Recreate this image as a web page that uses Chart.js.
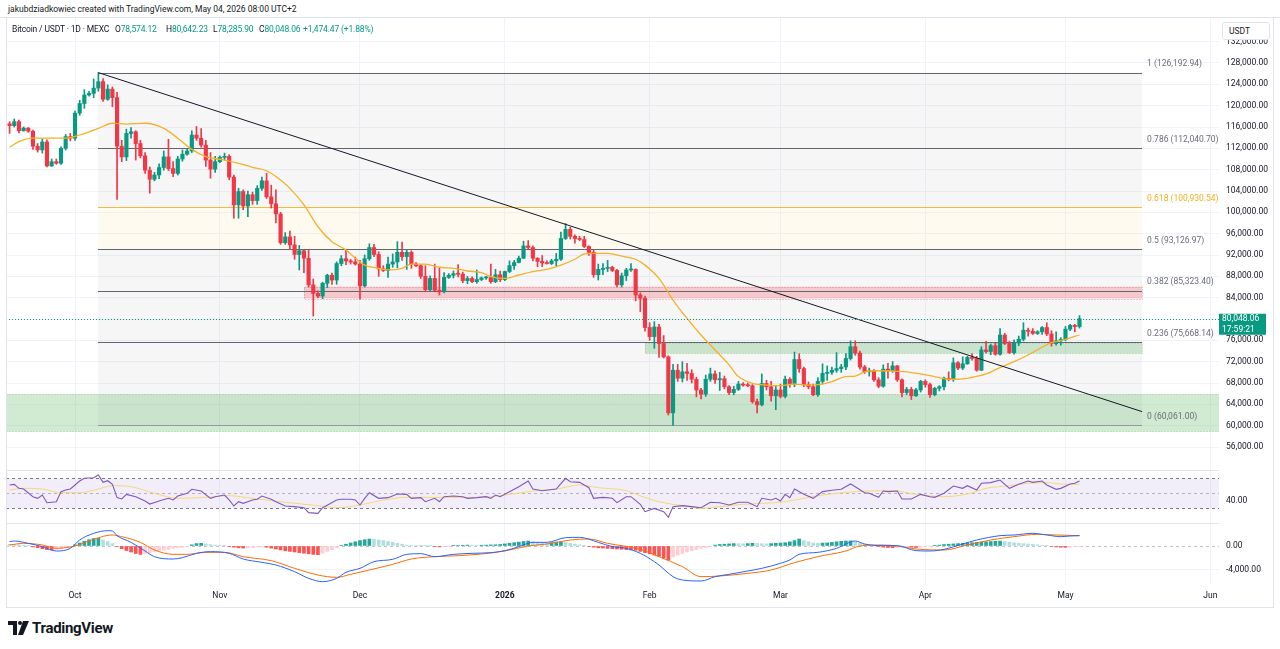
<!DOCTYPE html>
<html><head><meta charset="utf-8">
<script src="https://cdn.jsdelivr.net/npm/chart.js@4.4.1/dist/chart.umd.min.js"></script>
<style>
html,body{margin:0;padding:0;background:#fff;width:1280px;height:649px;overflow:hidden;font-family:Roboto,'DejaVu Sans',sans-serif;color:#131722;}
.abs{position:absolute;white-space:nowrap;}
canvas{position:absolute;left:0;}
.hl{position:absolute;height:1px;background:#e0e3eb;}
.g{color:#089981;}
.h2{position:absolute;white-space:nowrap;top:24px;font-size:8.5px;line-height:11px;letter-spacing:-0.15px}
</style></head>
<body>
<canvas id="cMain" width="1280" height="452" style="top:18px;width:1280px;height:452px"></canvas>
<canvas id="cRsi" width="1280" height="53" style="top:470px;width:1280px;height:53px"></canvas>
<canvas id="cMacd" width="1280" height="84" style="top:523px;width:1280px;height:84px"></canvas>

<div class="hl" style="left:0;top:17px;width:1280px"></div>
<div class="hl" style="left:6px;top:470px;width:1213px"></div>
<div class="hl" style="left:6px;top:523px;width:1213px"></div>
<div class="hl" style="left:6px;top:607px;width:1268px"></div>
<div class="abs" style="left:6px;top:17px;width:1px;height:590px;background:#e0e3eb"></div>
<div class="abs" style="left:1273px;top:17px;width:1px;height:590px;background:#e0e3eb"></div>

<div class="abs" style="left:8px;top:4px;font-size:8.5px;line-height:11px">jakubdziadkowiec created with TradingView.com, May 04, 2026 08:00 UTC+2</div>
<div class="h2" style="left:12px">Bitcoin / USDT · 1D · MEXC</div>
<div class="h2" style="left:115px">O<span class="g">78,574.12</span></div>
<div class="h2" style="left:166px">H<span class="g">80,642.23</span></div>
<div class="h2" style="left:213px">L<span class="g">78,285.90</span></div>
<div class="h2" style="left:259px">C<span class="g">80,048.06</span></div>
<div class="h2 g" style="left:303px">+1,474.47 (+1.88%)</div>

<div class="abs" style="left:1222px;top:22px;height:18px;border:1px solid #e0e3eb;border-radius:3px;background:#fff;font-size:8.5px;line-height:16px;padding-left:6px;box-sizing:border-box;width:48px">USDT</div>

<svg class="abs" style="left:8px;top:620px" width="22" height="16" viewBox="0 0 22 16">
  <path d="M0 1 H9 V15 H5 V5 H0 Z" fill="#131722"/>
  <circle cx="12" cy="3" r="2" fill="#131722"/>
  <path d="M15 1 H21 L15 15 H10 Z" fill="#131722"/>
</svg>
<div class="abs" style="left:32px;top:619px;font-size:15px;font-weight:bold;line-height:18px;letter-spacing:-0.3px">TradingView</div>

<script>
// ---------------- DATA ----------------
const CANDLE_START = '2025-09-16';           // first candle date (one candle per day)
const opens = [
 115300,116600,116250,117000,115300,115800,115200,112400,111700,113200,108700,109500,109200,112000,114200,
 113900,118600,120400,122000,122300,123300,124500,121200,123100,121500,112400,110400,114800,115100,112900,110600,107900,106200,107000,108400,110400,108200,107300,110000,110900,111500,114500,113900,112600,109800,108100,
 109500,110300,110500,106600,101400,103900,101200,103300,102200,104500,105900,102900,101600,99700,94300,95400,93900,92100,92800,91400,86400,84800,84300,86700,88200,87300,90400,91300,90900,90700,
 90300,86200,91300,93400,92100,89400,89100,90300,90700,92500,91700,92500,90300,90000,88000,85500,87600,85400,85100,87800,88200,88500,88400,87200,87600,87000,87400,87700,87800,87000,88300,
 87400,88900,90000,90600,91400,93700,93400,91400,90800,90500,90400,90900,91200,95100,96800,95500,95100,94900,93600,92500,88300,89300,89500,89700,89100,86400,88100,89200,89300,84500,83900,
 78400,76700,78500,75400,72900,62400,70400,68900,70100,69800,68700,66700,65900,68700,69700,68600,68800,67300,66200,66800,67800,67600,67500,64500,63900,67900,67300,65600,
 66700,65500,68700,67900,72400,70700,67700,67300,65800,68300,69800,70000,70400,70700,71000,72600,74800,73600,71000,70100,70300,68600,67400,70600,70300,71200,68600,66200,66800,65600,66700,
 68300,67700,65800,67000,67300,68900,68700,71800,70800,71600,72800,72600,70400,74200,73900,75000,73400,77000,75400,73700,75500,76200,77900,77700,77300,77600,78400,77200,75400,75900,
 76200,78100,78800,78574.12];
const highs = [
 117000,117000,117500,117300,116000,115900,115400,112900,113700,113600,110000,110000,112300,114600,114800,
 119000,121000,123000,122700,125000,126193,125100,123900,123500,122500,113500,115600,115900,115300,113500,111200,108500,107500,109100,111500,113700,109500,110500,111700,111800,115300,116100,115700,113500,111200,110500,
 110600,111100,110800,107000,104500,104200,104000,103800,105000,106600,107300,105100,104200,100000,96200,96500,95500,93800,92900,93000,87500,85300,86900,88400,88600,90700,91900,92900,91200,91600,
 91000,92000,94100,94000,92600,90000,91600,92200,94500,94400,92900,92800,90600,90200,90000,88100,90300,89500,88700,88500,89000,90200,88800,88000,87900,89200,87900,88000,90300,89300,89000,
 89000,90900,91000,91800,94600,94700,93700,91500,91900,90900,91200,92300,96300,97900,97200,95800,95500,95500,93700,93000,90300,90400,91000,89900,89300,88600,89500,90400,89400,84900,84300,
 79300,79500,79000,76900,73100,71500,71500,72000,71700,70500,69100,67000,69500,70800,70300,70000,69300,67500,67400,68300,68100,68000,67700,65000,69700,68500,68300,67500,
 67800,69300,69000,73800,73500,71000,68200,67800,69000,71600,71200,71000,73700,71500,73500,75900,75900,74000,71300,70800,70500,69000,71400,71700,72000,71300,68800,67200,67200,67000,68500,
 68600,68000,67200,67500,69100,70100,72700,72000,72900,73000,73500,73000,74800,75800,75300,75500,78200,77300,75800,76100,76800,79300,78300,78200,77800,78600,79300,77800,77600,76500,
 78600,79000,79000,80642.23];
const lows = [
 115000,114800,116000,114900,115200,115000,111800,111300,111100,108500,108600,109000,109000,111700,113400,
 113500,118200,119500,121800,121500,122700,120800,121000,119800,102400,109500,109700,113900,109800,110200,107300,103600,105900,106300,107900,107800,106700,107000,109600,110700,111200,113500,112200,108600,106400,107500,
 109300,109800,106100,98900,98900,100500,99200,101500,101500,104100,102600,100800,98000,94000,94000,93100,91200,89200,88700,86000,80560,84000,83800,85900,86500,86500,90000,90200,90300,90100,
 83700,86000,91000,91700,88000,88900,87800,89700,89600,91000,89300,89500,89800,87600,85100,85300,85300,84500,84900,87600,87700,87900,86800,86600,86800,86700,87200,87400,86700,86800,87000,
 87200,88700,89300,90500,91300,93000,90900,89800,89800,90300,90200,90000,91000,94900,95000,94200,94700,93400,91900,87800,87300,88300,88900,88900,86000,86000,87200,88900,83400,81400,77700,
 76000,74500,72800,72700,62000,60061,68300,68200,68500,68000,65400,65000,65500,68300,67900,66600,66900,65800,65800,66600,67400,67300,64200,62400,63700,66700,64600,63000,
 65200,65200,67200,67300,70000,67300,66900,65600,65500,67900,68500,69600,70000,70000,70500,72300,73200,70600,69800,69300,68300,67100,67200,68900,70000,68300,65400,65800,64900,65500,66300,
 67200,65300,65600,66500,66700,68400,68300,70500,70500,71500,72300,70200,70300,73600,73300,73200,73200,75200,73500,73400,75000,75900,76800,77100,77100,77100,76900,74900,75100,75100,
 75900,77800,77600,78285.90];
const closes = [
 116600,116250,117000,115300,115800,115200,112400,111700,113200,108700,109500,109200,112000,114200,113900,
 118600,120400,122000,122300,123300,124500,121200,123100,121500,112400,110400,114800,115100,112900,110600,107900,106200,107000,108400,110400,108200,107300,110000,110900,111500,114500,113900,112600,109800,108100,109500,
 110300,110500,106600,101400,103900,101200,103300,102200,104500,105900,102900,101600,99700,94300,95400,93900,92100,92800,91400,86400,84800,84300,86700,88200,87300,90400,91300,90900,90700,90300,
 86200,91300,93400,92100,89400,89100,90300,90700,92500,91700,92500,90300,90000,88000,85500,87600,85400,85100,87800,88200,88500,88400,87200,87600,87000,87400,87700,87800,87000,88300,87400,
 88900,90000,90600,91400,93700,93400,91400,90800,90500,90400,90900,91200,95100,96800,95500,95100,94900,93600,92500,88300,89300,89500,89700,89100,86400,88100,89200,89300,84500,83900,78400,
 76700,78500,75400,72900,62400,70400,68900,70100,69800,68700,66700,65900,68700,69700,68600,68800,67300,66200,66800,67800,67600,67500,64500,63900,67900,67300,65600,66700,
 65500,68700,67900,72400,70700,67700,67300,65800,68300,69800,70000,70400,70700,71000,72600,74800,73600,71000,70100,70300,68600,67400,70600,70300,71200,68600,66200,66800,65600,66700,68300,
 67700,65800,67000,67300,68900,68700,71800,70800,71600,72800,72600,70400,74200,73900,75000,73400,77000,75400,73700,75500,76200,77900,77700,77300,77600,78400,77200,75400,75900,76200,
 78100,78800,78574.12,80048.06];

// day offsets below are days relative to 2025-10-01
const monthTickDays   = [0, 31, 61, 92, 123, 151, 182, 212, 243];
const monthTickLabels = ['Oct','Nov','Dec','2026','Feb','Mar','Apr','May','Jun'];
const priceTicks = [56000,60000,64000,68000,72000,76000,80000,84000,88000,92000,96000,100000,104000,108000,112000,116000,120000,124000,128000,132000];

const emaDays = [-14,-12,-9,-5,-2,1,5,8,11,15,19,22,25,28,32,35,38,41,43,46,49,52,55,58,60,62,65,67,70,72,75,78,81,84,87,89,92,95,98,101,104,107,109,111,114,117,120,122,125,128,131,134,137,140,142,145,148,151,154,157,160,162,165,167,169,172,175,178,181,184,187,189,192,195,198,201,204,207,209,212,215];
const emaValues = [112200,113250,113900,113900,113900,114500,115750,116700,116550,116700,115750,113900,111800,110450,109800,109200,108450,107800,106700,104500,101400,97300,94500,92950,91400,90100,89500,89200,89500,90300,90300,89700,89500,89000,88700,87950,87600,88250,88900,89300,90100,91200,92200,92300,92300,91800,91200,90100,87600,83550,80100,77000,74200,71400,69200,67950,67600,67500,67800,67600,67800,68250,69200,69300,70100,70300,70250,70100,69700,69200,68700,68700,69050,69700,70900,72000,73250,74700,75550,76200,77000];

const fibRatios = ['0','0.236','0.382','0.5','0.618','0.786','1'];
const fibPrices = [60061.00, 75668.14, 85323.40, 93126.97, 100930.54, 112040.70, 126192.94];
const fibStartDay = 5, fibEndDay = 228.4;

const trendDays = [5, 228.4];
const trendPrices = [126192.94, 62630];

const zoneKinds   = ['supply', 'demand', 'demand'];
const zoneFrom    = [49, 122, -20];
const zoneTo      = [228.4, 228.4, 260];
const zoneTop     = [86060, 75440, 65900];
const zoneBottom  = [83880, 73560, 58900];

const lastPrice = 80048.06;
const countdown = '17:59:21';

const rsiDays = [-14,-13,-12,-11,-9,-8,-7,-6,-4,-3,-2,-1,1,2,4,5,6,7,8,9,10,11,13,15,16,18,20,21,22,24,25,27,29,30,32,33,34,35,36,38,39,40,42,43,45,47,49,50,52,53,56,57,59,60,61,62,63,65,67,69,71,72,74,75,77,78,79,81,83,84,86,88,89,90,91,93,95,97,98,100,103,105,106,108,110,111,113,115,116,118,119,121,
 122,123,124,126,127,128,130,132,134,136,138,140,142,144,146,147,149,150,151,152,153,154,156,158,160,162,164,166,167,169,170,172,173,174,176,177,179,181,183,184,186,188,190,191,193,194,196,198,200,202,204,205,207,208,210,211,213,214,215];
const rsiValues = [60.7,61.5,56.2,55.3,45.1,42.9,47.3,37.1,38.4,51.8,54,55.3,66,69.6,70.4,74,64.2,66.4,61.5,43.8,42,48.2,45.1,39.3,35.3,39.3,42.9,40.7,46,49.6,54.9,52.7,42.9,45.1,47.3,40.7,32.7,38.4,36.2,40.7,41.6,46,41.6,38.4,32.7,31.8,30.4,23.8,22.9,30.4,40.7,41.6,41.6,40.7,34,42.9,50.4,42.9,43.8,48.7,48.2,42.9,43.8,38.4,42.9,38.4,45.1,46,45.1,42.9,43.8,45.1,42.9,47.3,45.1,51.8,58.4,66,55.3,53.1,55.3,69.6,65.1,64.2,57.1,42.9,44.2,42.9,37.1,45.1,45.1,34.9,
 25.1,27.3,29.5,25.1,17.6,31.8,33.1,31.8,30.4,37.6,37.1,34,37.6,37.6,31.8,42.9,40.7,42.9,39.3,48.2,43.8,55.3,48.2,42.9,51.8,53.6,54.9,62,58.4,50.4,49.6,44.2,52.7,51.8,52.7,42,42,48.2,45.1,44.2,49.6,59.3,56.2,59.8,54,62.9,63.8,67.3,56.2,61.6,66,64.2,66,60.7,54.9,56.2,62,62.9,66];
const rsiMaDays = [-14,-11,-7,-3,1,5,8,12,17,22,28,33,38,45,52,56,61,66,71,77,82,87,92,98,103,108,112,118,121,125,130,134,138,143,147,152,156,160,165,170,175,180,186,191,195,200,204,208,212,215];
const rsiMaValues = [54,56.2,55.3,50.4,50.4,55.3,59.8,58.4,49.6,42.9,44.2,46.4,42.9,37.6,33.1,30.4,34,40.7,44.2,44.2,44.2,44.2,47.3,52.7,55.3,60.7,57.1,53.1,46.2,38.4,33.1,29.5,31.8,34.9,36.2,38.4,42.9,47.3,50.9,52.7,53.1,48.2,45.1,48.7,56.2,59.8,62.9,63.8,61.6,61.6];
const rsiUpper = 70, rsiMiddle = 50, rsiLower = 30;

const macdDays = [-14,-13,-10,-7,-4,-1,1,4,7,8,9,12,15,17,21,23,26,29,33,36,40,43,47,50,53,56,58,61,64,68,71,74,77,81,85,89,92,95,98,101,105,108,112,115,118,121,124,125,128,130,134,137,140,144,147,151,153,155,159,163,167,169,173,176,180,183,186,190,193,198,201,205,208,211,213,215];
const macdValues = [722,833,444,-111,-833,-389,1000,2111,2556,2500,1722,611,-833,-1778,-2167,-1944,-1222,-944,-1222,-2167,-2722,-3167,-4278,-5389,-5944,-5389,-4389,-3722,-2611,-2222,-1389,-1278,-1778,-1389,-1222,-1111,-778,-111,611,611,1389,1444,611,-111,-389,-1222,-2611,-3167,-5111,-5667,-5833,-5111,-4722,-4167,-3722,-2889,-2333,-1389,-1056,-389,833,333,56,56,-778,-833,-556,333,1000,1722,1833,2111,1833,1556,1667,1722];
const signalDays = [-14,-11,-7,-4,0,3,8,10,14,17,21,24,28,32,36,42,47,52,56,59,63,68,72,77,82,87,92,97,101,106,110,114,121,125,130,134,138,144,149,154,159,165,168,173,176,180,186,191,196,201,206,210,215];
const signalValues = [167,444,167,-389,0,833,1833,1556,611,-667,-1389,-1389,-1056,-1056,-1778,-2444,-3722,-4833,-5222,-4722,-4000,-3056,-2167,-1778,-1611,-1333,-833,0,333,1000,1167,444,-556,-1778,-3444,-5111,-5000,-4556,-4000,-2778,-1778,-833,0,167,0,-500,-667,167,1000,1556,1944,1833,1722];
// histogram: one value per candle, same dates as candles
const histValues = [
 300,280,250,200,150,80, -150,-300,-450,-600,-650,-550, -400,-250,-100,
 200,500,800,1050,1250,1300, 1000,750,400, -100,-450,-750,-1000,-1250,-1400,
 -1300,-1150,-1000,-850,-700,-550,-400,-300,-200,-100, 200,400,450, 350,250,150,100,50,
 -100,-200,-300,-350,-300,-250,-150,-100,
 -200,-350,-500,-650,-800,-900,-1000,-1100,-1200,-1300,-1400,-1450, -1200,-900,-600,-300,
 100,300,500,700,900,1050,1150, 1100,1000,900,750,600,450,300,150, 100,80,50,30,10,
 -100,-150,-80,-20, 50,80,120,150,130,100,120,150,180,200,250,
 350,450,550,650,750,830, 700,600,500,450,550,650,700,600,450,300,200,100,
 -100,-200,-300,-350,-400,-450,-500,-550,-600,-650,-700,-900,
 -1100,-1300,-1500,-1700,-2000,-2330, -1800,-1500,-1250,-1000,-800,-600,-400,-250,-100,
 150,250,300,350,400,380,350,400,450,420,380,350,400,450,500,550,700,900, 1170, 900,700,500,
 450,480,520,600,700,780,830,850, 650,450,300,150,50,
 -100,-200,-250,-300,-250,-200,-150,-200,-250,-200,-100, -50,50,150,250,
 300,350,400,450,500,550,600,650,700,750,800,820, 750,650,550,450,400,350,300,200,120,50,
 -80,-150,-200,-220, -150,-80,-40];

// ---------------- HELPERS ----------------
const DAY0 = Date.UTC(2025, 9, 1);
const startParts = CANDLE_START.split('-').map(Number);
const candleStartDay = (Date.UTC(startParts[0], startParts[1]-1, startParts[2]) - DAY0) / 86400000;
const dayOf = i => candleStartDay + i;

const UP = '#089981', DOWN = '#f23645', GRID = '#f0f3fa', TXT = '#131722';
const X_MIN = -14.77, X_MAX = 244.86;
const FONT = 'Roboto';
Chart.defaults.font.family = FONT;
Chart.defaults.font.size = 8.5;
Chart.defaults.color = TXT;

const fmt2 = v => v.toLocaleString('en-US', {minimumFractionDigits: 2, maximumFractionDigits: 2});
const pts = (days, vals) => days.map((d, i) => ({x: d, y: vals[i]}));

function xAxis(showLabels) {
  return {
    type: 'linear', min: X_MIN, max: X_MAX, offset: false,
    afterBuildTicks(s) { s.ticks = monthTickDays.map(v => ({value: v})); },
    afterFit(s) { s.height = showLabels ? 22 : 0; s.paddingLeft = 0; s.paddingRight = 0; s.paddingTop = 0; s.paddingBottom = 0; },
    grid: { color: GRID, drawTicks: false, offset: false },
    border: { display: false },
    ticks: {
      display: showLabels, autoSkip: false, maxRotation: 0, padding: 6,
      color: TXT,
      font: ctx => ({ family: FONT, size: 8.5, weight: (ctx.tick && ctx.tick.value === 92) ? 'bold' : 'normal' }),
      callback: (v, i) => monthTickLabels[i]
    }
  };
}
function yAxis(min, max, ticks, gridColor) {
  return {
    type: 'linear', position: 'right', min, max,
    afterBuildTicks(s) { s.ticks = ticks.map(v => ({value: v})); },
    afterFit(s) { s.width = 61; s.paddingTop = 0; s.paddingBottom = 0; s.paddingLeft = 0; s.paddingRight = 0; },
    grid: { color: gridColor, drawTicks: false },
    border: { display: false },
    ticks: { padding: 7, color: TXT, font: {family: FONT, size: 8.5}, callback: v => fmt2(v) }
  };
}
const baseOpts = {
  responsive: false, maintainAspectRatio: false, animation: false, events: [],
  layout: { padding: { left: 6, right: 0, top: 0, bottom: 0 } },
  plugins: { legend: { display: false }, tooltip: { enabled: false } }
};
const candleColor = ctx => (closes[ctx.dataIndex] >= opens[ctx.dataIndex] ? UP : DOWN);

// ---------------- MAIN PANE ----------------
const mainPlugin = {
  id: 'mainDraw',
  beforeDatasetsDraw(chart) {
    const {ctx, chartArea: a, scales: {x, y}} = chart;
    ctx.save();
    ctx.beginPath(); ctx.rect(a.left, a.top, a.right - a.left, a.bottom - a.top); ctx.clip();
    const fx0 = Math.round(x.getPixelForValue(fibStartDay)), fx1 = Math.round(x.getPixelForValue(fibEndDay));
    for (let i = 0; i < fibPrices.length - 1; i++) {
      const yA = y.getPixelForValue(fibPrices[i]), yB = y.getPixelForValue(fibPrices[i + 1]);
      ctx.fillStyle = fibRatios[i] === '0.5' ? 'rgba(255,190,40,0.07)' : 'rgba(120,123,134,0.065)';
      ctx.fillRect(fx0, yB, fx1 - fx0, yA - yB);
    }
    for (let i = 0; i < zoneKinds.length; i++) {
      const x0 = x.getPixelForValue(zoneFrom[i]), x1 = x.getPixelForValue(zoneTo[i]);
      const y0 = y.getPixelForValue(zoneTop[i]), y1 = y.getPixelForValue(zoneBottom[i]);
      const sup = zoneKinds[i] === 'supply';
      ctx.fillStyle = sup ? 'rgba(242,54,69,0.24)' : 'rgba(76,175,80,0.26)';
      ctx.fillRect(x0, y0, x1 - x0, y1 - y0);
      ctx.strokeStyle = sup ? 'rgba(242,54,69,0.55)' : 'rgba(76,175,80,0.55)';
      ctx.setLineDash([1, 2]); ctx.lineWidth = 1;
      ctx.strokeRect(Math.round(x0) + 0.5, Math.round(y0) + 0.5, Math.round(x1 - x0), Math.round(y1 - y0));
      ctx.setLineDash([]);
    }
    for (let i = 0; i < fibPrices.length; i++) {
      const yy = Math.round(y.getPixelForValue(fibPrices[i])) + 0.5;
      ctx.strokeStyle = fibRatios[i] === '0.618' ? '#f6b93b' : (fibRatios[i] === '0' ? '#9598a1' : '#62656f');
      ctx.lineWidth = 1;
      ctx.beginPath(); ctx.moveTo(fx0, yy); ctx.lineTo(fx1, yy); ctx.stroke();
    }
    ctx.restore();
  },
  afterDatasetsDraw(chart) {
    const {ctx, chartArea: a, scales: {y}} = chart;
    const py = Math.round(y.getPixelForValue(lastPrice)) + 0.5;
    ctx.save();
    ctx.strokeStyle = UP; ctx.setLineDash([1, 2]); ctx.lineWidth = 1;
    ctx.beginPath(); ctx.moveTo(a.left, py); ctx.lineTo(a.right, py); ctx.stroke();
    ctx.restore();
  },
  afterDraw(chart) {
    const {ctx, chartArea: a, scales: {x, y}} = chart;
    ctx.save();
    ctx.font = '8.5px ' + FONT; ctx.textBaseline = 'middle'; ctx.textAlign = 'left';
    const lx = x.getPixelForValue(fibEndDay) + 5;
    for (let i = 0; i < fibPrices.length; i++) {
      ctx.fillStyle = fibRatios[i] === '0.618' ? '#f2b01e' : '#6a6d78';
      ctx.fillText(fibRatios[i] + ' (' + fmt2(fibPrices[i]) + ')', lx, y.getPixelForValue(fibPrices[i]) - 8.5);
    }
    const py = y.getPixelForValue(lastPrice);
    ctx.fillStyle = UP;
    ctx.fillRect(a.right, py - 5, 47, 21);
    ctx.fillStyle = '#fff';
    ctx.fillText(fmt2(lastPrice), a.right + 3, py + 0.5);
    ctx.fillText(countdown, a.right + 3, py + 11);
    ctx.restore();
  }
};

new Chart(document.getElementById('cMain'), {
  type: 'bar',
  data: {
    datasets: [
      { type: 'line', data: pts(trendDays, trendPrices), borderColor: '#131722', borderWidth: 1, pointRadius: 0, order: 0 },
      { type: 'line', data: pts(emaDays, emaValues), borderColor: '#f6b026', borderWidth: 1.3, pointRadius: 0, cubicInterpolationMode: 'monotone', order: 1 },
      { type: 'bar', data: opens.map((o, i) => ({x: dayOf(i), y: [o, closes[i]]})), backgroundColor: candleColor, barThickness: 3.5, minBarLength: 1, grouped: false, borderWidth: 0, order: 2 },
      { type: 'bar', data: highs.map((h, i) => ({x: dayOf(i), y: [lows[i], h]})), backgroundColor: candleColor, barThickness: 1, grouped: false, borderWidth: 0, order: 3 }
    ]
  },
  options: Object.assign({}, baseOpts, {
    scales: { x: xAxis(false), y: yAxis(51687.5, 136437.5, priceTicks, GRID) }
  }),
  plugins: [mainPlugin]
});

// ---------------- RSI PANE ----------------
const rsiPlugin = {
  id: 'rsiBand',
  beforeDatasetsDraw(chart) {
    const {ctx, chartArea: a, scales: {y}} = chart;
    const yU = Math.round(y.getPixelForValue(rsiUpper)) + 0.5, yL = Math.round(y.getPixelForValue(rsiLower)) + 0.5, yM = Math.round(y.getPixelForValue(rsiMiddle)) + 0.5;
    ctx.save();
    ctx.fillStyle = 'rgba(126,87,194,0.1)';
    ctx.fillRect(a.left, yU, a.right - a.left, yL - yU);
    ctx.lineWidth = 1; ctx.setLineDash([3, 3]);
    ctx.strokeStyle = '#787b86';
    [yU, yL].forEach(v => { ctx.beginPath(); ctx.moveTo(a.left, v); ctx.lineTo(a.right, v); ctx.stroke(); });
    ctx.strokeStyle = 'rgba(120,123,134,0.5)';
    ctx.beginPath(); ctx.moveTo(a.left, yM); ctx.lineTo(a.right, yM); ctx.stroke();
    ctx.restore();
  }
};
new Chart(document.getElementById('cRsi'), {
  type: 'line',
  data: {
    datasets: [
      { data: pts(rsiDays, rsiValues), borderColor: '#7e57c2', borderWidth: 1.1, pointRadius: 0, order: 0 },
      { data: pts(rsiMaDays, rsiMaValues), borderColor: '#f7d774', borderWidth: 1, pointRadius: 0, cubicInterpolationMode: 'monotone', order: 1 }
    ]
  },
  options: Object.assign({}, baseOpts, {
    scales: { x: xAxis(false), y: yAxis(10, 80.667, [40], 'rgba(0,0,0,0)') }
  }),
  plugins: [rsiPlugin]
});

// ---------------- MACD PANE ----------------
const macdPlugin = {
  id: 'macdZero',
  beforeDatasetsDraw(chart) {
    const {ctx, chartArea: a, scales: {y}} = chart;
    const y0 = Math.round(y.getPixelForValue(0)) + 0.5;
    ctx.save();
    ctx.strokeStyle = 'rgba(120,123,134,0.45)'; ctx.setLineDash([3, 3]); ctx.lineWidth = 1;
    ctx.beginPath(); ctx.moveTo(a.left, y0); ctx.lineTo(a.right, y0); ctx.stroke();
    ctx.restore();
  }
};
const histColor = ctx => {
  const i = ctx.dataIndex, v = histValues[i], p = i > 0 ? histValues[i - 1] : v;
  if (v >= 0) return v >= p ? '#26a69a' : '#b2dfdb';
  return v < p ? '#ff5252' : '#ffcdd2';
};
new Chart(document.getElementById('cMacd'), {
  type: 'bar',
  data: {
    datasets: [
      { type: 'line', data: pts(macdDays, macdValues), borderColor: '#2962ff', borderWidth: 1, pointRadius: 0, cubicInterpolationMode: 'monotone', order: 0 },
      { type: 'line', data: pts(signalDays, signalValues), borderColor: '#ff6d00', borderWidth: 1, pointRadius: 0, cubicInterpolationMode: 'monotone', order: 1 },
      { type: 'bar', data: histValues.map((v, i) => ({x: dayOf(i), y: v})), backgroundColor: histColor, barThickness: 3, grouped: false, borderWidth: 0, order: 2 }
    ]
  },
  options: Object.assign({}, baseOpts, {
    scales: {
      x: xAxis(true),
      y: yAxis(-6500, 3833.3, [-4000, 0], ctx => (ctx.tick && ctx.tick.value === 0) ? 'rgba(0,0,0,0)' : GRID)
    }
  }),
  plugins: [macdPlugin]
});
</script>
</body></html>
